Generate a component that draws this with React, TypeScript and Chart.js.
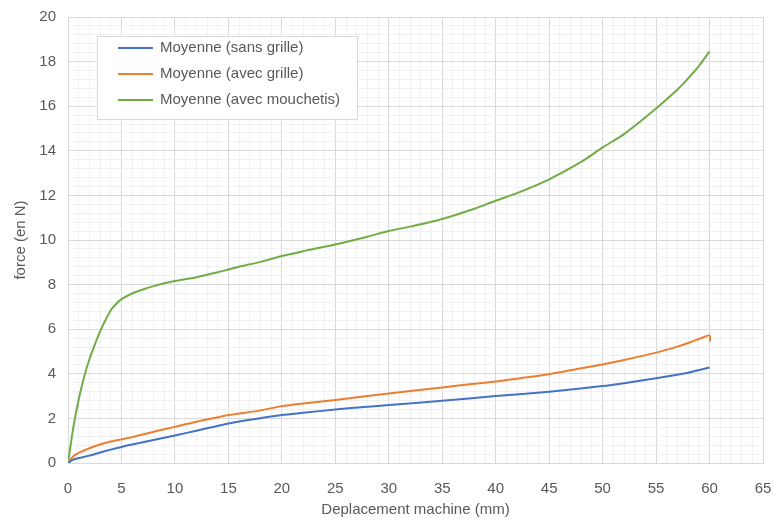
import React, { useEffect, useRef } from "react";
import { Chart, registerables } from "chart.js";

Chart.register(...registerables);

const seriesNames = ["Moyenne (sans grille)", "Moyenne (avec grille)", "Moyenne (avec mouchetis)"];
const seriesColors = ["#4472C4", "#ED7D31", "#70AD47"];

const blueX = [0, 0.5, 1, 2, 3, 4, 5, 6, 8, 10, 12, 14, 15, 16, 18, 20, 22, 25, 28, 30, 35, 40, 45, 50, 52, 55, 58, 60];
const blueY = [0, 0.15, 0.22, 0.33, 0.47, 0.6, 0.72, 0.83, 1.03, 1.23, 1.45, 1.66, 1.77, 1.86, 2.01, 2.15, 2.25, 2.4, 2.52, 2.6, 2.79, 3.0, 3.2, 3.45, 3.58, 3.8, 4.05, 4.28];

const orangeX = [0, 0.5, 1, 2, 3, 4, 5, 6, 8, 10, 12, 14, 15, 16, 18, 20, 22, 25, 28, 30, 32, 35, 38, 40, 42, 45, 48, 50, 52, 55, 57, 58, 59.5, 60, 60.05];
const orangeY = [0, 0.3, 0.45, 0.66, 0.83, 0.96, 1.06, 1.16, 1.4, 1.62, 1.85, 2.05, 2.15, 2.22, 2.36, 2.55, 2.67, 2.83, 3.0, 3.12, 3.23, 3.39, 3.55, 3.65, 3.78, 3.98, 4.25, 4.42, 4.62, 4.95, 5.22, 5.38, 5.65, 5.72, 5.45];

const greenX = [0, 0.5, 1, 1.5, 2, 2.5, 3, 3.5, 4, 4.5, 5, 6, 7, 8, 9, 10, 12, 14, 15, 16, 18, 20, 22, 25, 28, 30, 32, 35, 38, 40, 42, 45, 48, 50, 52, 55, 57, 58, 59, 60];
const greenY = [0, 1.6, 2.85, 3.85, 4.65, 5.3, 5.9, 6.4, 6.85, 7.13, 7.35, 7.6, 7.78, 7.93, 8.06, 8.16, 8.33, 8.55, 8.68, 8.8, 9.02, 9.28, 9.5, 9.8, 10.15, 10.4, 10.6, 10.94, 11.4, 11.76, 12.1, 12.72, 13.5, 14.15, 14.75, 15.9, 16.75, 17.25, 17.8, 18.45];

const xTitle = "Deplacement machine (mm)";
const yTitle = "force (en N)";

const FONT = "'Liberation Sans', Arial, sans-serif";
const TEXT = "#595959";

function toPoints(xs: number[], ys: number[]) {
  return xs.map((x, i) => ({ x, y: ys[i] }));
}

const legendPlugin = {
  id: "insideLegend",
  afterDraw(chart: any) {
    const { ctx, chartArea } = chart;
    const bx = chartArea.left + 29;
    const by = chartArea.top + 19;
    const bw = 260;
    const bh = 83;
    ctx.save();
    ctx.fillStyle = "#ffffff";
    ctx.fillRect(bx, by, bw, bh);
    ctx.strokeStyle = "#d9d9d9";
    ctx.lineWidth = 1;
    ctx.strokeRect(bx + 0.5, by + 0.5, bw, bh);
    ctx.font = `15px ${FONT}`;
    ctx.textBaseline = "middle";
    ctx.textAlign = "left";
    seriesNames.forEach((name, i) => {
      const cy = by + 12 + i * 26;
      ctx.strokeStyle = seriesColors[i];
      ctx.lineWidth = 2;
      ctx.beginPath();
      ctx.moveTo(bx + 21, cy);
      ctx.lineTo(bx + 56, cy);
      ctx.stroke();
      ctx.fillStyle = TEXT;
      ctx.fillText(name, bx + 63, cy);
    });
    ctx.restore();
  },
};

export default function App() {
  const ref = useRef<HTMLCanvasElement>(null);
  useEffect(() => {
    if (!ref.current) return;
    const xs = [blueX, orangeX, greenX];
    const ys = [blueY, orangeY, greenY];
    const chart = new Chart(ref.current, {
      type: "line",
      data: {
        datasets: seriesNames.map((name, i) => ({
          label: name,
          data: toPoints(xs[i], ys[i]),
          borderColor: seriesColors[i],
          backgroundColor: seriesColors[i],
          borderWidth: 2,
          pointRadius: 0,
          tension: 0.25,
          fill: false,
        })),
      },
      options: {
        animation: false,
        responsive: true,
        maintainAspectRatio: false,
        layout: { padding: { top: 17, right: 12, left: 0, bottom: 0 } },
        plugins: { legend: { display: false }, tooltip: { enabled: false } },
        scales: {
          x: {
            type: "linear",
            min: 0,
            max: 65,
            afterFit: (s: any) => {
              s.height = 58;
              s.paddingLeft = 0;
              s.paddingRight = 0;
            },
            ticks: {
              stepSize: 1,
              autoSkip: false,
              maxRotation: 0,
              padding: 17,
              color: TEXT,
              font: { family: FONT, size: 15 },
              callback: (v: any) => (Math.round(v) % 5 === 0 ? String(Math.round(v)) : ""),
            },
            grid: {
              drawTicks: false,
              color: (c: any) => (Math.round(c.tick.value) % 5 === 0 ? "#d9d9d9" : "#f0f0f0"),
            },
            border: { color: "#d9d9d9" },
            title: {
              display: true,
              text: xTitle,
              color: TEXT,
              font: { family: FONT, size: 15 },
              padding: { top: 4, bottom: 2 },
            },
          },
          y: {
            type: "linear",
            min: 0,
            max: 20,
            afterFit: (s: any) => {
              s.width = 68;
              s.paddingTop = 0;
              s.paddingBottom = 0;
            },
            ticks: {
              stepSize: 0.4,
              autoSkip: false,
              padding: 12,
              color: TEXT,
              font: { family: FONT, size: 15 },
              callback: (v: any) => {
                const t = Math.round(v * 10);
                return t % 20 === 0 ? String(t / 10) : "";
              },
            },
            grid: {
              drawTicks: false,
              color: (c: any) => (Math.round(c.tick.value * 10) % 20 === 0 ? "#d9d9d9" : "#f0f0f0"),
            },
            border: { color: "#d9d9d9" },
            title: {
              display: true,
              text: yTitle,
              color: TEXT,
              font: { family: FONT, size: 15 },
              padding: { top: 12, bottom: 4 },
            },
          },
        },
      },
      plugins: [legendPlugin],
    });
    return () => chart.destroy();
  }, []);
  return (
    <div style={{ position: "fixed", left: 0, top: 0, width: 775, height: 521, background: "#fff" }}>
      <canvas ref={ref} />
    </div>
  );
}
